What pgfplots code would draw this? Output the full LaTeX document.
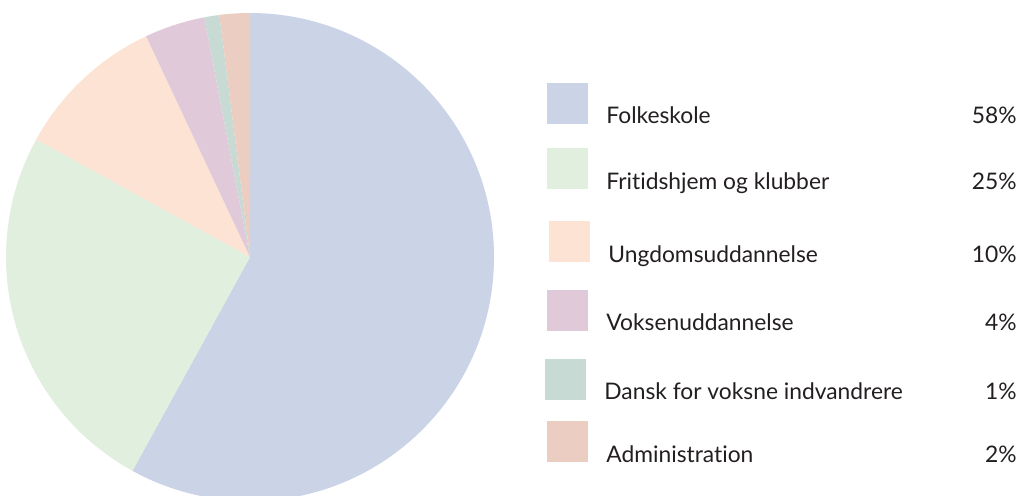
\documentclass[border=0pt]{standalone}
\usepackage{pgfplots}
\pgfplotsset{compat=1.18}
\usepackage{pgfplotstable}
\usepackage{fontspec}
\setmainfont{Lato}[Ligatures={NoCommon,NoRare,NoDiscretionary}]

\definecolor{c1}{HTML}{CBD3E6}
\definecolor{c2}{HTML}{E1EFDF}
\definecolor{c3}{HTML}{FDE3D3}
\definecolor{c4}{HTML}{E0CAD9}
\definecolor{c5}{HTML}{C8DAD4}
\definecolor{c6}{HTML}{EBCDC1}
\definecolor{txt}{HTML}{231F20}

% shares in percent, legend square (left, top) and label baseline, in px of the reference
\pgfplotstableread[col sep=comma]{
name,value,col,sqx,sqy,tx,ty
Folkeskole,58,c1,547,83,606,123
Fritidshjem og klubber,25,c2,547,148,606,189
Ungdomsuddannelse,10,c3,549,221,608,262
Voksenuddannelse,4,c4,547,290,606,330
Dansk for voksne indvandrere,1,c5,545,359,604,399
Administration,2,c6,547,421,606,462
}\shares

\begin{document}
\begin{tikzpicture}
\begin{axis}[
    x=0.5pt, y=0.5pt,
    xmin=0, xmax=1021, ymin=0, ymax=495,
    hide axis, clip=true,
]
\addplot[draw=none] coordinates {(0,0) (1021,495)};
\coordinate (BL) at (axis cs:0,0);
\coordinate (TR) at (axis cs:1021,495);
\pgfplotsextra{
  \def\ang{90}
  \pgfplotsforeachungrouped \i in {0,...,5}{
    \pgfplotstablegetelem{\i}{value}\of\shares \let\v\pgfplotsretval
    \pgfplotstablegetelem{\i}{col}\of\shares \let\col\pgfplotsretval
    \pgfmathsetmacro\aend{\ang-3.6*\v}
    \fill[fill=\col] (axis cs:250,238) -- ++(\ang:122pt)
      arc[start angle=\ang, end angle=\aend, radius=122pt] -- cycle;
    \let\ang\aend
  }
  \pgfplotsforeachungrouped \i in {0,...,5}{
    \pgfplotstablegetelem{\i}{name}\of\shares \let\nm\pgfplotsretval
    \pgfplotstablegetelem{\i}{value}\of\shares \let\v\pgfplotsretval
    \pgfplotstablegetelem{\i}{col}\of\shares \let\col\pgfplotsretval
    \pgfplotstablegetelem{\i}{sqx}\of\shares \let\sx\pgfplotsretval
    \pgfplotstablegetelem{\i}{sqy}\of\shares \let\sy\pgfplotsretval
    \pgfplotstablegetelem{\i}{tx}\of\shares \let\tx\pgfplotsretval
    \pgfplotstablegetelem{\i}{ty}\of\shares \let\ty\pgfplotsretval
    \pgfmathsetmacro\xa{\sx}
    \pgfmathsetmacro\xb{\sx+41}
    \pgfmathsetmacro\ya{495-\sy}
    \pgfmathsetmacro\yb{495-\sy-41}
    \pgfmathsetmacro\yt{495-\ty}
    \fill[fill=\col] (axis cs:\xa,\ya) rectangle (axis cs:\xb,\yb);
    \node[anchor=base west, inner sep=0pt, text=txt, font=\fontsize{11.4pt}{13pt}\selectfont]
      at (axis cs:\tx,\yt) {\nm};
    \node[anchor=base east, inner sep=0pt, text=txt, font=\fontsize{11.4pt}{13pt}\selectfont]
      at (axis cs:1017,\yt) {\v\%};
  }
}
\end{axis}
\pgfresetboundingbox
\path[use as bounding box] (BL) rectangle (TR);
\end{tikzpicture}
\end{document}
